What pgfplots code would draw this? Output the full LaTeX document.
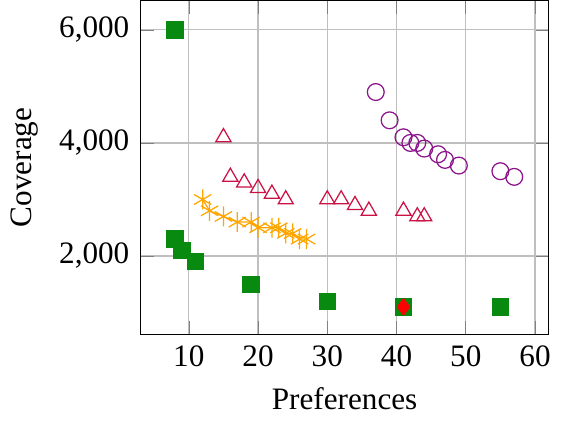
\documentclass[border=0pt]{standalone}
\usepackage{pgfplots}
\pgfplotsset{compat=1.18}
\usepackage{fontspec}
\setmainfont{Liberation Serif}
\definecolor{sqgreen}{RGB}{8,138,16}
\definecolor{tricol}{RGB}{204,17,68}
\definecolor{circcol}{RGB}{139,20,139}
\definecolor{starcol}{RGB}{255,166,0}
\begin{document}
\begin{tikzpicture}
\begin{axis}[
  scale only axis, width=131pt, height=107pt,
  xmin=3, xmax=62, ymin=616, ymax=6517,
  xtick={10,20,30,40,50,60}, ytick={2000,4000,6000},
  grid=major,
  xlabel={Preferences}, ylabel={Coverage},
  /pgf/number format/assume math mode=true,
  mark size=2.6pt,
]
\addplot[only marks, mark=square*, color=sqgreen, mark options={fill=sqgreen}] coordinates {
 (8,6000) (8,2300) (9,2100) (11,1900) (19,1500) (30,1200) (41,1100) (55,1100)
};
\addplot[only marks, mark=diamond*, color=red, mark options={fill=red}] coordinates {
 (41,1100)
};
\addplot[only marks, mark=triangle, color=tricol, mark size=2.8pt] coordinates {
 (15,4100) (16,3400) (18,3300) (20,3200) (22,3100) (24,3000) (30,3000) (32,3000)
 (34,2900) (36,2800) (41,2800) (43,2700) (44,2700)
};
\addplot[only marks, mark=o, color=circcol, mark size=2.7pt] coordinates {
 (37,4900) (39,4400) (41,4100) (42,4000) (43,4000) (44,3900) (46,3800) (47,3700)
 (49,3600) (55,3500) (57,3400)
};
\addplot[thin, mark=asterisk, color=starcol, mark size=3.2pt] coordinates {
 (12,3000) (13,2800) (15,2700) (17,2600) (19,2600) (20,2500) (22,2500) (23,2500)
 (24,2400) (25,2400) (26,2300) (27,2300)
};
\end{axis}
\end{tikzpicture}
\end{document}
